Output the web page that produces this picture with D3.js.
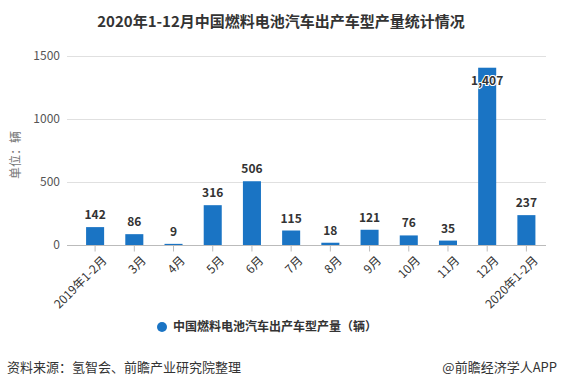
<!DOCTYPE html>
<html>
<head>
<meta charset="utf-8">
<script src="https://cdn.jsdelivr.net/npm/d3@7"></script>
<style>
  body { margin: 0; background: #fff; }
  svg text { font-family: "Microsoft YaHei", "Noto Sans CJK SC", sans-serif; }
</style>
</head>
<body>
<div id="canvas"></div>
<script>
const categories = ['2019年1-2月','3月','4月','5月','6月','7月','8月','9月','10月','11月','12月','2020年1-2月'];
const values = [142, 86, 9, 316, 506, 115, 18, 121, 76, 35, 1407, 237];
const yTicks = [0, 500, 1000, 1500];
const seriesName = '中国燃料电池汽车出产车型产量（辆）';

const W = 561, H = 389;
const svg = d3.select('#canvas').append('svg')
  .attr('width', W).attr('height', H);

const x = d3.scaleBand().domain(categories).range([75.5, 546]).paddingInner(0.54).paddingOuter(0.27);
const y = d3.scaleLinear().domain([0, 1500]).range([245, 56]);

// title
svg.append('text')
  .attr('x', 281).attr('y', 27)
  .attr('text-anchor', 'middle')
  .style('font-size', '15px').style('font-weight', 'bold').style('fill', '#333')
  .text('2020年1-12月中国燃料电池汽车出产车型产量统计情况');

// grid
svg.append('g').selectAll('line')
  .data(yTicks.filter(d => d > 0))
  .enter().append('line')
  .attr('x1', 67).attr('x2', 546)
  .attr('y1', d => Math.round(y(d)) + 0.5).attr('y2', d => Math.round(y(d)) + 0.5)
  .attr('stroke', '#e0e0e0');

// y axis labels
svg.append('g').selectAll('text')
  .data(yTicks).enter().append('text')
  .attr('x', 60).attr('y', d => y(d) + 4)
  .attr('text-anchor', 'end')
  .style('font-size', '12px').style('fill', '#555')
  .text(d => d);

svg.append('text')
  .attr('transform', 'translate(20,155) rotate(-90)')
  .attr('text-anchor', 'middle')
  .style('font-size', '12px').style('fill', '#777')
  .text('单位：辆');

// bars
svg.append('g').selectAll('rect')
  .data(values).enter().append('rect')
  .attr('x', (d, i) => x(categories[i]))
  .attr('width', x.bandwidth())
  .attr('y', d => y(d))
  .attr('height', d => y(0) - y(d))
  .attr('fill', '#1a74c4');

// x axis
const xAxis = svg.append('g')
  .attr('transform', `translate(0,${y(0) + 0.5})`)
  .call(d3.axisBottom(x).tickSize(6).tickSizeOuter(0));
xAxis.select('.domain').attr('stroke', '#bbb').attr('d', 'M67,0H546');
xAxis.selectAll('.tick line').attr('stroke', '#bbb');
xAxis.selectAll('.tick text')
  .attr('text-anchor', 'end')
  .attr('transform', 'rotate(-45)')
  .attr('dx', '-0.2em').attr('dy', '0.9em')
  .style('font-size', '12px').style('fill', '#333')
  .style('font-family', '"Microsoft YaHei", "Noto Sans CJK SC", sans-serif');

// value labels
const fmt = d3.format(',');
svg.append('g').selectAll('text')
  .data(values).enter().append('text')
  .attr('x', (d, i) => x(categories[i]) + x.bandwidth() / 2)
  .attr('y', d => Math.max(y(d) - 8, 85))
  .attr('text-anchor', 'middle')
  .style('font-size', '12px').style('font-weight', 'bold')
  .style('fill', '#333')
  .style('stroke', '#fff').style('stroke-width', 2).style('paint-order', 'stroke')
  .text(d => fmt(d));

// legend
svg.append('circle').attr('cx', 162).attr('cy', 327).attr('r', 5).attr('fill', '#1a74c4');
svg.append('text')
  .attr('x', 173).attr('y', 331)
  .style('font-size', '12px').style('font-weight', 'bold').style('fill', '#333')
  .text(seriesName);

// footer
svg.append('text')
  .attr('x', 7).attr('y', 372)
  .style('font-size', '13px').style('fill', '#333')
  .text('资料来源：氢智会、前瞻产业研究院整理');
svg.append('text')
  .attr('x', 557).attr('y', 372)
  .attr('text-anchor', 'end')
  .style('font-size', '13px').style('fill', '#333')
  .text('@前瞻经济学人APP');
</script>
</body>
</html>
